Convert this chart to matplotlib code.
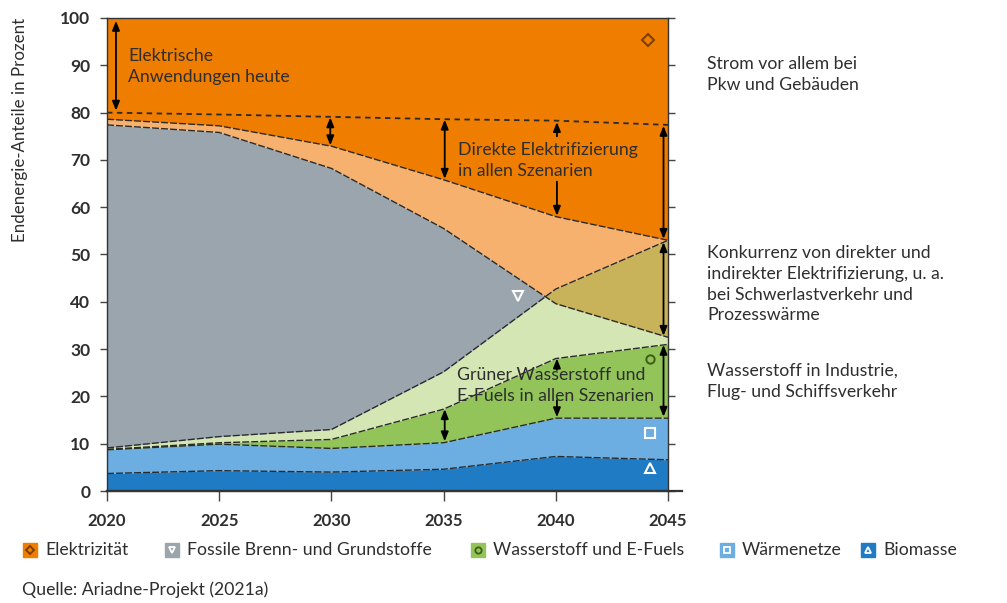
import matplotlib.pyplot as plt
import matplotlib.lines as mlines

plt.rcParams['font.family'] = ['Lato', 'DejaVu Sans']

# stacked boundaries (cumulative, percent of final energy)
years = [2020, 2025, 2030, 2035, 2040, 2045]
biomasse_top = [3.7, 4.3, 4.0, 4.6, 7.3, 6.6]
waermenetze_top = [8.7, 9.9, 9.0, 10.2, 15.4, 15.4]
h2_min_top = [8.8, 10.2, 10.9, 17.3, 28.0, 31.0]
h2_max_top = [9.1, 11.5, 13.0, 25.2, 42.7, 53.0]
fossil_top = [77.4, 75.8, 68.2, 55.5, 39.6, 32.5]
strom_min_bottom = [78.6, 77.2, 72.9, 65.8, 58.0, 53.0]
strom_heute = [80.0, 79.6, 79.1, 78.6, 78.3, 77.4]

legend_labels = ['Elektrizität', 'Fossile Brenn- und Grundstoffe',
                 'Wasserstoff und E-Fuels', 'Wärmenetze', 'Biomasse']

C_ORANGE = '#EF7D00'
C_ORANGE_L = '#F6B16E'
C_GRAY = '#9AA5AD'
C_OLIVE = '#C8B35A'
C_GREEN_L = '#D4E6B3'
C_GREEN = '#92C45A'
C_BLUE_L = '#6DAEE2'
C_BLUE = '#1E7BC4'
TXT = '#2e2e2e'

fig = plt.figure(figsize=(10.07, 6.03), dpi=100)
W, H = 1007, 603
ax = fig.add_axes([107 / W, 1 - 491 / H, 561 / W, 473 / H])

top = [100] * len(years)
zeros = [0] * len(years)
ax.fill_between(years, strom_min_bottom, top, color=C_ORANGE, lw=0)
ax.fill_between(years, fossil_top, strom_min_bottom, color=C_ORANGE_L, lw=0)
ax.fill_between(years, h2_min_top, h2_max_top, color=C_GREEN_L, lw=0)
ax.fill_between(years, h2_max_top, fossil_top,
                where=[f >= h for f, h in zip(fossil_top, h2_max_top)],
                interpolate=True, color=C_GRAY, lw=0)
ax.fill_between(years, fossil_top, h2_max_top,
                where=[h >= f for f, h in zip(fossil_top, h2_max_top)],
                interpolate=True, color=C_OLIVE, lw=0)
ax.fill_between(years, waermenetze_top, h2_min_top, color=C_GREEN, lw=0)
ax.fill_between(years, biomasse_top, waermenetze_top, color=C_BLUE_L, lw=0)
ax.fill_between(years, zeros, biomasse_top, color=C_BLUE, lw=0)

for b in [biomasse_top, waermenetze_top, h2_min_top, h2_max_top,
          fossil_top, strom_min_bottom]:
    ax.plot(years, b, color='#2a2a2a', lw=1.0, ls=(0, (5, 1.5)))
ax.plot(years, strom_heute, color='#2a2a2a', lw=1.3, ls=(0, (3, 2.5)))


def darrow(x, y0, y1, style='<|-|>'):
    ax.annotate('', xy=(x, y1), xytext=(x, y0),
                arrowprops=dict(arrowstyle=style + ',head_length=0.55,head_width=0.22',
                                color='black', lw=1.3, shrinkA=0, shrinkB=0))


darrow(2020.4, 99.4, 80.4)
darrow(2029.95, 79.0, 73.1)
darrow(2035.05, 78.5, 66.0)
darrow(2040.05, 75.0, 78.0, '-|>')
darrow(2040.05, 65.4, 58.2, '-|>')
darrow(2044.8, 77.2, 53.3)
darrow(2044.8, 52.6, 32.8)
darrow(2044.8, 30.9, 15.7)
darrow(2035.05, 17.3, 10.5)
darrow(2040.05, 25.6, 28.0, '-|>')
darrow(2040.05, 19.2, 15.6, '-|>')

fs = 12.7
ls = 1.37
ax.text(2020.95, 93.6, 'Elektrische\nAnwendungen heute', fontsize=fs,
        color=TXT, va='top', linespacing=ls)
ax.text(2035.65, 73.7, 'Direkte Elektrifizierung\nin allen Szenarien', fontsize=fs,
        color=TXT, va='top', linespacing=ls)
ax.text(2035.6, 26.2, 'Grüner Wasserstoff und\nE-Fuels in allen Szenarien',
        fontsize=fs, color=TXT, va='top', linespacing=ls)

# symbol markers inside the areas
ax.plot(2044.1, 95.3, marker='D', ms=6, mfc='none', mec='#7a3c00', mew=1.4)
ax.plot(2038.3, 41.2, marker='v', ms=7, mfc='none', mec='white', mew=1.5)
ax.plot(2044.2, 27.9, marker='o', ms=6, mfc='none', mec='#3e5d1a', mew=1.4)
ax.plot(2044.2, 12.3, marker='s', ms=6.5, mfc='none', mec='white', mew=1.5)
ax.plot(2044.2, 4.9, marker='^', ms=7, mfc='none', mec='white', mew=1.5)

ax.set_xlim(2020, 2045)
ax.set_ylim(0, 100)
ax.set_xticks(years)
ax.set_yticks(range(0, 101, 10))
ax.tick_params(axis='y', left=True, right=True, direction='out', length=5,
               width=1.0, color='#444444', labelsize=12.5, labelcolor=TXT, pad=7)
ax.tick_params(axis='x', direction='out', length=7, width=1.0,
               color='#444444', labelsize=12, labelcolor=TXT, pad=9)
for lab in ax.get_xticklabels() + ax.get_yticklabels():
    lab.set_fontweight('bold')
for side in ['left', 'right', 'top', 'bottom']:
    ax.spines[side].set_color('#333333')
    ax.spines[side].set_linewidth(1.0)
ax.spines['bottom'].set_linewidth(1.6)
ax.add_line(mlines.Line2D([0, 1.025], [0, 0], transform=ax.transAxes,
                          color='#333333', lw=1.6, clip_on=False))

# overlay in pixel coordinates for the texts outside the plot
ov = fig.add_axes([0, 0, 1, 1])
ov.set_xlim(0, W)
ov.set_ylim(H, 0)
ov.axis('off')

ov.text(20, 18, 'Endenergie-Anteile in Prozent', rotation=90, fontsize=12.2,
        color=TXT, ha='center', va='top')

side_notes = [
    (56, 'Strom vor allem bei\nPkw und Gebäuden'),
    (245, 'Konkurrenz von direkter und\nindirekter Elektrifizierung, u. a.\n'
          'bei Schwerlastverkehr und\nProzesswärme'),
    (363, 'Wasserstoff in Industrie,\nFlug- und Schiffsverkehr'),
]
for y, t in side_notes:
    ov.text(707, y, t, fontsize=fs, color=TXT, va='top', linespacing=ls)

legend_colors = [C_ORANGE, C_GRAY, C_GREEN, C_BLUE_L, C_BLUE]
legend_markers = [('D', '#7a3c00'), ('v', 'white'), ('o', '#3e5d1a'),
                  ('s', 'white'), ('^', 'white')]
legend_x = [30, 172, 478, 727, 868]
for x, c, (m, mc), lab in zip(legend_x, legend_colors, legend_markers, legend_labels):
    ov.plot(x, 550, marker='s', ms=10.5, mfc=c, mec=c)
    ov.plot(x, 550, marker=m, ms=4.5, mfc='none', mec=mc, mew=1.3)
    ov.text(x + 15, 550, lab, fontsize=fs, color=TXT, va='center')

ov.text(22, 590, 'Quelle: Ariadne-Projekt (2021a)', fontsize=fs, color=TXT,
        va='center')

plt.savefig('out.png', dpi=100)
